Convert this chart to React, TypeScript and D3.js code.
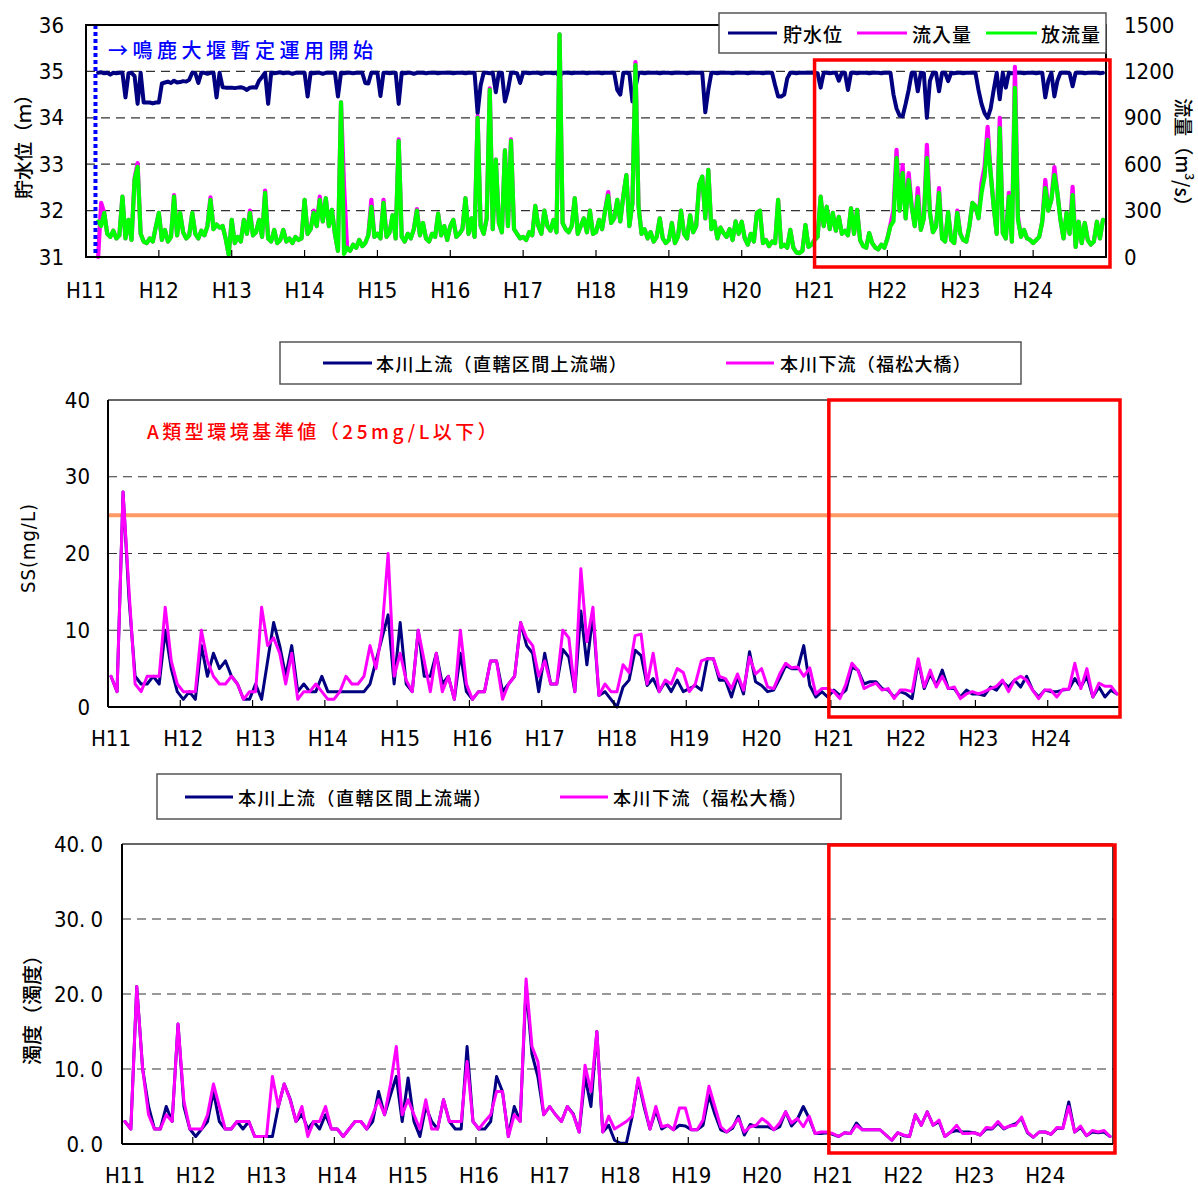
import React from "react";
import * as d3 from "d3";

const yearLabels = ["H11", "H12", "H13", "H14", "H15", "H16", "H17", "H18", "H19", "H20", "H21", "H22", "H23", "H24"];
const levelTicks = [31, 32, 33, 34, 35, 36];
const flowTicks = [0, 300, 600, 900, 1200, 1500];
const ssTicks = [0, 10, 20, 30, 40];
const turbTicks = [0, 10, 20, 30, 40];
const ssStandard = 25;
const operationStart = 0.13; // years after H11 start

// top chart: half-monthly samples, first sample at step 4 of H11
const flowStepsPerYear = 24;
const flowFirstStep = 4;

// 放流量 (m3/s)
const outflow = [
  230, 200, 285, 150, 130, 170, 120, 140, 390, 120, 240, 110, 500, 583, 150, 100, 90, 120, 100, 195,
  285, 110, 175, 100, 130, 390, 140, 285, 160, 120, 140, 285, 150, 120, 170, 140, 200, 370, 180, 210, 190, 200, 120, 15,
  240, 90, 130, 100, 240, 150, 285, 140, 160, 240, 130, 415, 120, 100, 175, 90, 110, 175, 100, 120, 90, 130, 110, 120,
  370, 150, 180, 285, 200, 370, 230, 380, 200, 305, 150, 40, 1000, 20, 60, 40, 80, 60, 110, 70, 90, 140, 325, 130,
  150, 120, 350, 130, 160, 270, 120, 750, 130, 100, 150, 120, 180, 300, 140, 220, 120, 100, 150, 130, 280, 140, 200, 110,
  200, 240, 130, 150, 180, 380, 150, 250, 130, 900, 200, 150, 250, 1080, 180, 630, 220, 160, 690, 200, 750, 180, 150, 120,
  130, 110, 160, 140, 330, 200, 150, 300, 200, 170, 240, 160, 1440, 220, 180, 160, 200, 380, 150, 200, 250, 160, 300, 150,
  160, 240, 180, 300, 396, 220, 250, 370, 230, 395, 530, 200, 350, 1240, 330, 150, 180, 120, 160, 100, 130, 250, 120, 90,
  110, 220, 90, 130, 300, 150, 120, 270, 160, 200, 470, 520, 250, 563, 180, 230, 120, 190, 155, 130, 180, 110, 230, 150,
  228, 120, 80, 150, 100, 285, 300, 90, 110, 70, 100, 90, 370, 65, 80, 60, 175, 60, 30, 25, 40, 207, 65, 80,
  110, 130, 390, 200, 325, 180, 285, 170, 260, 150, 170, 140, 315, 150, 305, 110, 70, 60, 155, 90, 60, 50, 80, 60,
  120, 200, 230, 640, 300, 543, 250, 498, 325, 200, 390, 175, 250, 640, 285, 160, 195, 414, 120, 100, 291, 110, 90, 285,
  150, 110, 100, 200, 350, 330, 250, 414, 518, 757, 543, 325, 150, 834, 155, 120, 390, 100, 1093, 240, 130, 175, 120, 110,
  90, 110, 130, 228, 446, 300, 370, 530, 414, 240, 120, 285, 150, 400, 65, 228, 90, 220, 110, 80, 100, 228, 120, 240,
];

// 流入量 (m3/s)
const inflow = [
  0, 350, 285, 150, 130, 170, 120, 140, 390, 120, 240, 110, 510, 607, 150, 100, 90, 120, 100, 195,
  285, 110, 175, 100, 130, 400, 140, 285, 160, 120, 140, 285, 150, 120, 170, 140, 200, 385, 180, 210, 190, 200, 120, 15,
  240, 90, 130, 100, 240, 150, 300, 140, 160, 240, 130, 430, 120, 100, 175, 90, 110, 175, 100, 120, 90, 130, 110, 120,
  370, 150, 180, 300, 200, 390, 230, 380, 200, 305, 150, 40, 1000, 460, 60, 40, 80, 60, 110, 70, 90, 140, 370, 130,
  150, 120, 370, 130, 160, 270, 120, 760, 130, 100, 150, 120, 180, 310, 140, 220, 120, 100, 150, 130, 280, 140, 200, 110,
  200, 240, 130, 150, 180, 380, 150, 250, 130, 910, 200, 150, 250, 1090, 180, 630, 220, 160, 690, 200, 760, 180, 150, 120,
  130, 110, 160, 140, 330, 200, 150, 300, 200, 170, 240, 160, 1440, 220, 180, 160, 200, 380, 150, 200, 250, 160, 300, 150,
  160, 240, 180, 300, 420, 220, 250, 370, 230, 395, 530, 200, 350, 1260, 330, 150, 180, 120, 160, 100, 130, 250, 120, 90,
  110, 220, 90, 130, 300, 150, 120, 270, 160, 200, 470, 520, 250, 563, 180, 230, 120, 190, 155, 130, 180, 110, 230, 150,
  228, 120, 80, 150, 100, 285, 300, 90, 110, 70, 100, 90, 370, 65, 80, 60, 175, 60, 30, 25, 40, 207, 65, 80,
  110, 130, 390, 200, 325, 180, 285, 170, 260, 150, 170, 140, 315, 150, 305, 110, 70, 60, 155, 90, 60, 50, 80, 60,
  120, 210, 305, 692, 300, 595, 250, 543, 325, 200, 446, 175, 250, 725, 285, 160, 195, 446, 120, 100, 291, 110, 90, 300,
  150, 110, 100, 200, 350, 330, 250, 479, 582, 841, 543, 325, 150, 899, 155, 120, 414, 100, 1229, 260, 130, 175, 120, 110,
  90, 110, 130, 228, 498, 300, 370, 582, 414, 240, 120, 285, 150, 453, 65, 228, 90, 220, 110, 80, 100, 228, 120, 240,
];

// 貯水位 (m)
const waterLevel = [
  34.97, 34.98, 34.96, 34.97, 34.93, 34.97, 34.96, 34.97, 34.97, 34.44, 34.96, 34.97, 34.9, 34.3, 34.97, 34.33, 34.33, 34.33, 34.31, 34.33,
  34.33, 34.74, 34.76, 34.78, 34.75, 34.8, 34.76, 34.77, 34.79, 34.78, 34.82, 34.97, 34.96, 34.75, 34.97, 34.97, 34.95, 34.97, 34.97, 34.44, 34.97, 34.66, 34.65, 34.65,
  34.65, 34.64, 34.65, 34.66, 34.64, 34.6, 34.65, 34.66, 34.65, 34.8, 34.88, 34.97, 34.3, 34.97, 34.96, 34.97, 34.98, 34.96, 34.97, 34.97, 34.95, 34.97, 34.97, 34.97,
  34.97, 34.46, 34.97, 34.96, 34.97, 34.97, 34.95, 34.97, 34.97, 34.97, 34.97, 34.46, 34.97, 34.96, 34.97, 34.97, 34.96, 34.97, 34.97, 34.97, 34.75, 34.74, 34.97, 34.97,
  34.97, 34.47, 34.97, 34.97, 34.96, 34.97, 34.97, 34.3, 34.97, 34.96, 34.97, 34.97, 34.95, 34.97, 34.97, 34.97, 34.96, 34.97, 34.97, 34.97, 34.96, 34.97, 34.97, 34.97,
  34.97, 34.96, 34.97, 34.97, 34.97, 34.96, 34.97, 34.97, 34.97, 34.1, 34.7, 34.97, 34.97, 34.96, 34.97, 34.55, 34.97, 34.97, 34.35, 34.6, 34.97, 34.97, 34.96, 34.75,
  34.97, 34.97, 34.96, 34.97, 34.97, 34.97, 34.95, 34.97, 34.97, 34.97, 34.96, 34.97, 34.9, 34.97, 34.97, 34.97, 34.96, 34.97, 34.97, 34.97, 34.97, 34.96, 34.97, 34.97,
  34.97, 34.97, 34.96, 34.97, 34.97, 34.97, 34.97, 34.6, 34.5, 34.97, 34.97, 34.96, 34.35, 34.65, 34.97, 34.97, 34.96, 34.97, 34.97, 34.97, 34.97, 34.96, 34.97, 34.97,
  34.97, 34.96, 34.97, 34.97, 34.97, 34.97, 34.96, 34.97, 34.97, 34.97, 34.97, 34.97, 34.12, 34.6, 34.97, 34.97, 34.96, 34.97, 34.97, 34.97, 34.97, 34.96, 34.97, 34.97,
  34.97, 34.97, 34.96, 34.97, 34.97, 34.97, 34.97, 34.96, 34.97, 34.97, 34.97, 34.7, 34.46, 34.46, 34.5, 34.85, 34.97, 34.97, 34.96, 34.97, 34.97, 34.97, 34.97, 34.97,
  34.97, 34.96, 34.65, 34.97, 34.97, 34.96, 34.97, 34.97, 34.8, 34.97, 34.97, 34.6, 34.97, 34.97, 34.96, 34.97, 34.97, 34.97, 34.96, 34.97, 34.97, 34.97, 34.96, 34.97,
  34.97, 34.97, 34.5, 34.2, 34.05, 34.03, 34.3, 34.6, 34.97, 34.97, 34.57, 34.97, 34.96, 34.0, 34.8, 34.97, 34.97, 34.57, 34.97, 34.97, 34.79, 34.97, 34.96, 34.97,
  34.97, 34.96, 34.97, 34.97, 34.97, 34.97, 34.6, 34.3, 34.1, 34.0, 34.2, 34.6, 34.97, 34.4, 34.97, 34.65, 34.97, 34.96, 34.97, 34.97, 34.97, 34.96, 34.97, 34.97,
  34.97, 34.96, 34.97, 34.97, 34.44, 34.8, 34.97, 34.46, 34.8, 34.97, 34.97, 34.97, 34.96, 34.68, 34.97, 34.97, 34.97, 34.96, 34.97, 34.97, 34.97, 34.97, 34.96, 34.97,
];

// SS (mg/L), monthly from H11-Apr
const ssUpper = [
  4, 2, 28, 14, 4, 3, 3, 4, 3, 10, 5, 2, 1, 2, 1, 8, 4, 7, 5, 6, 4, 3, 1, 1, 3, 1, 6, 11, 8, 4,
  8, 2, 3, 2, 2, 4, 2, 2, 2, 2, 2, 2, 2, 3, 6, 9, 12, 3, 11, 3, 2, 10, 4, 4, 7, 3, 4, 1, 7, 2,
  1, 2, 2, 6, 6, 2, 3, 4, 11, 8, 7, 2, 7, 3, 3, 7.5, 6.5, 2, 12.5, 5.5, 12, 1.5,
  2, 1, 0, 2.6, 3.5, 7.4, 6.7, 2.8, 3.7, 2, 3.3, 2, 3.5, 2, 2.4, 2.8, 2.2, 6.3, 6.3, 3.5,
  3.5, 1.3, 4, 1.7, 7.2, 3.3, 2.8, 2, 2.2, 3.7, 5.4, 5, 5, 8, 2.8, 1.3, 2, 1.3, 2.2, 1.5,
  2.2, 5.2, 4.8, 3, 3.3, 3.3, 2.4, 2.2, 1.3, 2, 1.7, 1.1, 6, 2.4, 4.3, 2.8, 4.8, 2.4, 2.4, 1.3,
  2.2, 1.7, 1.7, 1.5, 2.6, 2.2, 3.3, 2.6, 3.5, 2.6, 4, 2.2, 1.3, 2.2, 2, 2, 2.2, 2.3, 3.7, 2.6,
  4, 1.3, 2.6, 1.3, 2.2, 1.7,
];
const ssLower = [
  4, 2, 28, 15, 3, 2, 4, 4, 4, 13, 6, 3, 2, 2, 2, 10, 6, 4, 3, 3, 4, 3, 1, 2, 2, 13, 8, 9, 7, 3,
  7, 1, 2, 2, 3, 2, 1, 1, 2, 4, 3, 3, 4, 8, 5, 10, 20, 4, 7, 3.5, 2, 10, 6, 2, 7, 2, 4, 1, 10, 3,
  1, 2, 2, 6, 6, 1, 3, 4, 11, 9, 8, 4, 6, 3, 3, 10, 9, 2, 18, 8.5, 13, 1.5,
  3, 2, 2, 5.5, 4.5, 9.3, 9.5, 3, 7, 2, 3.5, 3, 5, 4.5, 2, 3, 6, 6.3, 6.3, 4,
  3.7, 2.4, 4.3, 2.2, 6.5, 4.3, 5, 2.6, 2.4, 4.3, 5.7, 5.1, 5.2, 4, 5.1, 1.7, 2.4, 2.4, 2, 1.1,
  3, 5.7, 4.8, 2.4, 2.8, 3.1, 2.2, 2.4, 1.1, 2.2, 2.2, 2, 6.3, 2.6, 4.8, 2.6, 4, 2.4, 2.6, 1.1,
  1.7, 2, 1.7, 2, 2.4, 2.7, 3.5, 2, 3.5, 4, 3.5, 2.2, 1.1, 2.2, 2.2, 1.3, 2.3, 2.3, 5.7, 2.4,
  5, 1.3, 3.1, 2.7, 2.7, 1.7,
];

// 濁度, monthly from H11-Apr
const turbUpper = [
  3, 2, 21, 10, 5, 2, 2, 5, 3, 16, 5, 2, 1, 2, 3, 7, 3, 2, 2, 3, 2, 3, 1, 1, 1, 1, 5, 8, 6, 3,
  4, 2, 3, 2, 3.9, 2, 2, 1, 2, 3, 3, 2, 3, 7, 3.9, 6.5, 9, 3, 8.8, 3, 1, 5, 3, 2, 5.9, 3, 2, 2, 13, 3,
  2, 2, 3, 9, 7, 1, 5, 3, 21, 12, 9, 3.9, 5, 3.9, 3, 5, 4, 1.6, 9, 5, 15,
  1.6, 2.5, 0.5, 0.1, 0.1, 3.7, 8.5, 5, 2, 4.5, 2, 2.5, 1.9, 2.5, 2.4, 1.9, 1.9, 2.5, 6.5, 4,
  1.9, 1.6, 2.1, 3.7, 1.2, 2.6, 2.3, 2.3, 2.3, 1.9, 2.3, 4.3, 2.4, 3.3, 5, 3.4, 1.4, 1.4, 1.5, 1.3,
  1, 1.5, 1.4, 2.8, 1.9, 1.9, 1.9, 1.9, 1.2, 0.5, 1.5, 1.1, 1, 3.9, 2.5, 4.3, 2.5, 3, 1, 1.6,
  1.8, 1.6, 1.6, 1.5, 1.2, 2, 2, 2.8, 2, 2.4, 2.7, 3.4, 1.5, 0.9, 1.6, 1.6, 1.3, 2.1, 2.1, 5.6,
  1.6, 2.2, 1.1, 1.6, 1.5, 1.6, 1,
];
const turbLower = [
  3, 2, 21, 10, 3.9, 2, 2, 3.9, 3, 16, 5.7, 2, 2, 2, 3.9, 8, 5, 2, 2, 3, 3, 3, 1, 1, 1, 9, 5, 8, 5.9, 3,
  5, 1, 3, 3, 5, 2, 2, 1, 2, 3, 3, 2, 3.9, 5.9, 3.9, 7.9, 13, 3.9, 5.9, 3.9, 2, 5.9, 2, 2, 5.9, 3, 3, 3, 11, 3,
  2, 3, 3.9, 7, 7, 1, 3.9, 3, 22, 13, 11, 3.9, 5, 3.9, 3, 5, 3.9, 1.6, 10.5, 7, 15,
  1.6, 3.7, 2, 2.5, 3, 3.7, 8.8, 5.4, 2, 5, 2.3, 2.5, 1.9, 4.8, 4.8, 1.9, 1.9, 3.2, 7.7, 5,
  2.3, 1.6, 2.3, 3.4, 1.6, 2.3, 2.5, 3.4, 2.8, 1.9, 2.8, 4.3, 2.8, 3.4, 2.3, 3.7, 1.4, 1.6, 1.6, 1.4,
  1, 1.5, 1.4, 2.5, 1.9, 1.9, 1.9, 1.9, 1.2, 0.5, 1.5, 1.2, 1, 3.9, 2.5, 4.3, 2.5, 3.2, 1, 1.6,
  2.5, 1.4, 1.4, 1.5, 1.2, 2.2, 2.1, 3, 2.1, 2.4, 2.5, 3.6, 1.6, 0.9, 1.6, 1.6, 1.3, 2.2, 2.1, 5,
  1.6, 2.4, 1.1, 1.8, 1.6, 1.8, 1,
];

const NAVY = "#000080";
const MAGENTA = "#ff00ff";
const GREEN = "#00ff00";
const RED = "#ff0000";
const JP = "'Noto Sans CJK JP', 'Noto Sans', sans-serif";
const NUM = "'Liberation Sans Narrow', 'DejaVu Sans Condensed', 'Noto Sans', sans-serif";

export default function App() {
  const yearIdx = d3.range(0, 14);
  const innerTicks = d3.range(1, 14);

  // ---- top chart
  const tx = d3.scaleLinear().domain([0, 14]).range([86, 1106]);
  const tyL = d3.scaleLinear().domain([31, 36]).range([257, 25]);
  const tyR = d3.scaleLinear().domain([0, 1500]).range([257, 25]);
  const flowT = (i: number) => (flowFirstStep + i) / flowStepsPerYear;
  const levelLine = d3.line<number>().x((_, i) => tx(flowT(i))).y((d) => tyL(d));
  const flowLine = d3.line<number>().x((_, i) => tx(flowT(i))).y((d) => tyR(d));

  // ---- middle chart
  const mx = d3.scaleLinear().domain([0, 14]).range([108, 1120]);
  const my = d3.scaleLinear().domain([0, 40]).range([707, 400]);
  const monthT = (i: number) => (i + 0.5) / 12;
  const ssLine = d3.line<number>().x((_, i) => mx(monthT(i))).y((d) => my(d));

  // ---- bottom chart
  const bx = d3.scaleLinear().domain([0, 14]).range([122, 1113]);
  const by = d3.scaleLinear().domain([0, 40]).range([1144, 844]);
  const turbLine = d3.line<number>().x((_, i) => bx(monthT(i))).y((d) => by(d));

  const lineProps = { fill: "none", strokeLinejoin: "round" as const, strokeLinecap: "round" as const };
  const jpStyle = { fontFamily: JP, fontWeight: 500 };

  return (
    <svg width={1198} height={1187} style={{ position: "absolute", left: 0, top: 0, background: "#fff" }}>
      <rect x={0} y={0} width={1198} height={1187} fill="#fff" />

      {/* ================= TOP CHART ================= */}
      {levelTicks.filter((v) => v > 31 && v < 36).map((v) => (
        <line key={"tg" + v} x1={tx(0)} x2={tx(14)} y1={tyL(v)} y2={tyL(v)} stroke="#333" strokeWidth={1.2} strokeDasharray="9,6" />
      ))}
      <path d={levelLine(waterLevel) || ""} stroke={NAVY} strokeWidth={4} {...lineProps} />
      <path d={flowLine(inflow) || ""} stroke={MAGENTA} strokeWidth={4.2} {...lineProps} />
      <path d={flowLine(outflow) || ""} stroke={GREEN} strokeWidth={4.2} {...lineProps} />
      <line x1={tx(operationStart)} x2={tx(operationStart)} y1={tyL(36)} y2={tyL(31)} stroke="#0000ff" strokeWidth={4} strokeDasharray="4,3" />
      <rect x={tx(0)} y={tyL(36)} width={tx(14) - tx(0)} height={tyL(31) - tyL(36)} fill="none" stroke="#000" strokeWidth={2} />
      {innerTicks.map((i) => (
        <line key={"tt" + i} x1={tx(i)} x2={tx(i)} y1={tyL(31)} y2={tyL(31) - 7} stroke="#000" strokeWidth={1.2} />
      ))}
      {levelTicks.map((v) => (
        <text key={"tl" + v} x={64} y={tyL(v)} textAnchor="end" dominantBaseline="central" fontFamily={NUM} fontSize={22}>{v}</text>
      ))}
      {flowTicks.map((v) => (
        <text key={"tr" + v} x={1124} y={tyR(v)} textAnchor="start" dominantBaseline="central" fontFamily={NUM} fontSize={22}>{v}</text>
      ))}
      {yearIdx.map((i) => (
        <text key={"tx" + i} x={tx(i)} y={290} textAnchor="middle" dominantBaseline="central" fontFamily={NUM} fontSize={22}>{yearLabels[i]}</text>
      ))}
      <text x={22} y={142} transform="rotate(-90 22 142)" textAnchor="middle" dominantBaseline="central" {...jpStyle} fontSize={19}>貯水位（ｍ）</text>
      <text x={1184} y={157} transform="rotate(90 1184 157)" textAnchor="middle" dominantBaseline="central" {...jpStyle} fontSize={19}>
        流量（m<tspan fontSize={12} dy={-7}>3</tspan><tspan dy={7}>/s）</tspan>
      </text>
      <text x={108} y={49} dominantBaseline="central" {...jpStyle} fontSize={20} fill="#0000ff" style={{ letterSpacing: "4.5px" }}>→鳴鹿大堰暫定運用開始</text>
      {/* top legend */}
      <rect x={719} y={13} width={387} height={40} fill="#fff" stroke="#555" strokeWidth={1.5} />
      <line x1={728} x2={777} y1={33} y2={33} stroke={NAVY} strokeWidth={3} />
      <text x={783} y={33} dominantBaseline="central" {...jpStyle} fontSize={19} style={{ letterSpacing: "1px" }}>貯水位</text>
      <line x1={857} x2={907} y1={33} y2={33} stroke={MAGENTA} strokeWidth={3} />
      <text x={912} y={33} dominantBaseline="central" {...jpStyle} fontSize={19} style={{ letterSpacing: "1px" }}>流入量</text>
      <line x1={986} x2={1037} y1={33} y2={33} stroke={GREEN} strokeWidth={3} />
      <text x={1041} y={33} dominantBaseline="central" {...jpStyle} fontSize={19} style={{ letterSpacing: "1px" }}>放流量</text>
      <rect x={tx(10)} y={60} width={tx(14) + 4 - tx(10)} height={207} fill="none" stroke={RED} strokeWidth={3.5} />

      {/* ================= MIDDLE CHART (SS) ================= */}
      <rect x={280} y={342} width={741} height={42} fill="#fff" stroke="#555" strokeWidth={1.5} />
      <line x1={323} x2={372} y1={363} y2={363} stroke={NAVY} strokeWidth={3} />
      <text x={376} y={363} dominantBaseline="central" {...jpStyle} fontSize={18} style={{ letterSpacing: "1.4px" }}>本川上流（直轄区間上流端）</text>
      <line x1={726} x2={774} y1={363} y2={363} stroke={MAGENTA} strokeWidth={3} />
      <text x={780} y={363} dominantBaseline="central" {...jpStyle} fontSize={18} style={{ letterSpacing: "1.2px" }}>本川下流（福松大橋）</text>

      {ssTicks.filter((v) => v > 0 && v < 40).map((v) => (
        <line key={"mg" + v} x1={mx(0)} x2={mx(14)} y1={my(v)} y2={my(v)} stroke="#333" strokeWidth={1.2} strokeDasharray="9,6" />
      ))}
      <line x1={mx(0)} x2={mx(14)} y1={my(ssStandard)} y2={my(ssStandard)} stroke="#ff9966" strokeWidth={4} />
      <path d={ssLine(ssUpper) || ""} stroke={NAVY} strokeWidth={3} {...lineProps} />
      <path d={ssLine(ssLower) || ""} stroke={MAGENTA} strokeWidth={3} {...lineProps} />
      <line x1={mx(0)} x2={mx(14)} y1={my(40)} y2={my(40)} stroke="#333" strokeWidth={1.5} />
      <line x1={mx(14)} x2={mx(14)} y1={my(40)} y2={my(0)} stroke="#000" strokeWidth={1.5} />
      <line x1={mx(0)} x2={mx(0)} y1={my(40)} y2={my(0)} stroke="#000" strokeWidth={2} />
      <line x1={mx(0)} x2={mx(14)} y1={my(0)} y2={my(0)} stroke="#000" strokeWidth={2} />
      {innerTicks.map((i) => (
        <line key={"mt" + i} x1={mx(i)} x2={mx(i)} y1={my(0)} y2={my(0) - 7} stroke="#000" strokeWidth={1.2} />
      ))}
      {ssTicks.map((v) => (
        <text key={"ml" + v} x={90} y={my(v)} textAnchor="end" dominantBaseline="central" fontFamily={NUM} fontSize={22}>{v}</text>
      ))}
      {yearIdx.map((i) => (
        <text key={"mx" + i} x={mx(i) + 3} y={738} textAnchor="middle" dominantBaseline="central" fontFamily={NUM} fontSize={22}>{yearLabels[i]}</text>
      ))}
      <text x={28} y={548} transform="rotate(-90 28 548)" textAnchor="middle" dominantBaseline="central" fontFamily={NUM} fontSize={20} style={{ letterSpacing: "1px" }}>SS(mg/L)</text>
      <text x={147} y={430} dominantBaseline="central" {...jpStyle} fontSize={19} fill={RED} style={{ letterSpacing: "3.5px" }}>A類型環境基準値（25mg/L以下）</text>
      <rect x={mx(10) - 2} y={my(40)} width={mx(14) - mx(10) + 2} height={my(0) + 10 - my(40)} fill="none" stroke={RED} strokeWidth={3.5} />

      {/* ================= BOTTOM CHART (濁度) ================= */}
      <rect x={157} y={774} width={684} height={45} fill="#fff" stroke="#555" strokeWidth={1.5} />
      <line x1={185} x2={233} y1={797} y2={797} stroke={NAVY} strokeWidth={3} />
      <text x={238} y={797} dominantBaseline="central" {...jpStyle} fontSize={18} style={{ letterSpacing: "1.6px" }}>本川上流（直轄区間上流端）</text>
      <line x1={560} x2={608} y1={797} y2={797} stroke={MAGENTA} strokeWidth={3} />
      <text x={613} y={797} dominantBaseline="central" {...jpStyle} fontSize={18} style={{ letterSpacing: "1.5px" }}>本川下流（福松大橋）</text>

      {turbTicks.filter((v) => v > 0 && v < 40).map((v) => (
        <line key={"bg" + v} x1={bx(0)} x2={bx(14)} y1={by(v)} y2={by(v)} stroke="#333" strokeWidth={1.2} strokeDasharray="9,6" />
      ))}
      <path d={turbLine(turbUpper) || ""} stroke={NAVY} strokeWidth={3} {...lineProps} />
      <path d={turbLine(turbLower) || ""} stroke={MAGENTA} strokeWidth={3} {...lineProps} />
      <line x1={bx(0)} x2={bx(14)} y1={by(40)} y2={by(40)} stroke="#333" strokeWidth={1.5} />
      <line x1={bx(14)} x2={bx(14)} y1={by(40)} y2={by(0)} stroke="#000" strokeWidth={1.5} />
      <line x1={bx(0)} x2={bx(0)} y1={by(40)} y2={by(0)} stroke="#000" strokeWidth={2} />
      <line x1={bx(0)} x2={bx(14)} y1={by(0)} y2={by(0)} stroke="#000" strokeWidth={2} />
      {innerTicks.map((i) => (
        <line key={"bt" + i} x1={bx(i)} x2={bx(i)} y1={by(0)} y2={by(0) - 7} stroke="#000" strokeWidth={1.2} />
      ))}
      {turbTicks.map((v) => {
        const [intPart, decPart] = v.toFixed(1).split(".");
        return (
          <text key={"bl" + v} x={103} y={by(v)} textAnchor="end" dominantBaseline="central" fontFamily={NUM} fontSize={22}>
            {intPart}.<tspan dx={5}>{decPart}</tspan>
          </text>
        );
      })}
      {yearIdx.map((i) => (
        <text key={"bx" + i} x={bx(i) + 3} y={1175} textAnchor="middle" dominantBaseline="central" fontFamily={NUM} fontSize={22}>{yearLabels[i]}</text>
      ))}
      <text x={31} y={1005} transform="rotate(-90 31 1005)" textAnchor="middle" dominantBaseline="central" {...jpStyle} fontSize={20}>濁度（濁度）</text>
      <rect x={bx(10) - 1} y={by(40) + 1} width={bx(14) + 3 - bx(10)} height={by(0) + 9 - by(40) - 1} fill="none" stroke={RED} strokeWidth={3.5} />
    </svg>
  );
}
